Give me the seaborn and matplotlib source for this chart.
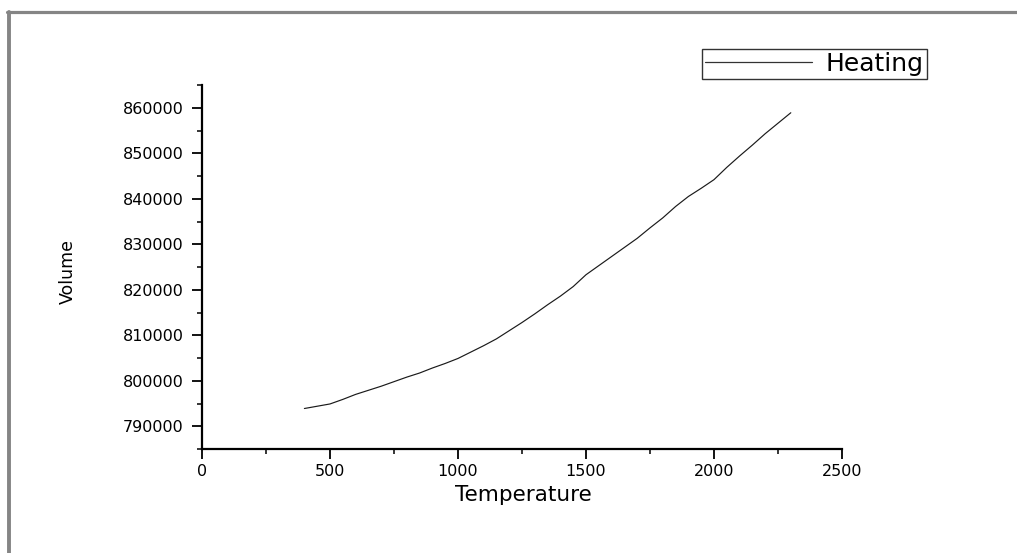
import matplotlib
matplotlib.use("Agg")
import matplotlib.pyplot as plt
import numpy as np
import pandas as pd
import seaborn as sns
from matplotlib.ticker import MultipleLocator
from matplotlib.lines import Line2D

# Heating run: volume against temperature
temperature = [400, 450, 500, 550, 600, 650, 700, 750, 800, 850, 900, 950,
               1000, 1050, 1100, 1150, 1200, 1250, 1300, 1350, 1400, 1450,
               1500, 1550, 1600, 1650, 1700, 1750, 1800, 1850, 1900, 1950,
               2000, 2050, 2100, 2150, 2200, 2250, 2300]
volume = [793900, 794400, 794900, 795900, 797000, 797900, 798800, 799800,
          800800, 801700, 802800, 803800, 804900, 806300, 807700, 809200,
          811000, 812800, 814700, 816700, 818600, 820700, 823300, 825300,
          827300, 829300, 831300, 833600, 835800, 838300, 840500, 842300,
          844200, 846900, 849400, 851800, 854300, 856600, 858900]
series_name = "Heating"

df = pd.DataFrame({"Temperature": temperature, "Volume": volume})

sns.set_theme(style="ticks")
plt.rcParams["font.family"] = ["DejaVu Sans"]

W, H = 1017, 553
fig = plt.figure(figsize=(W / 100, H / 100), dpi=100)
fig.patch.set_facecolor("white")

ax = fig.add_axes([202 / W, 1 - 449 / H, 640 / W, 364 / H])
sns.lineplot(data=df, x="Temperature", y="Volume", ax=ax,
             color="#1a1a1a", linewidth=0.85, label=series_name)

ax.set_xlim(0, 2500)
ax.set_ylim(785000, 865000)
ax.xaxis.set_major_locator(MultipleLocator(500))
ax.xaxis.set_minor_locator(MultipleLocator(250))
ax.yaxis.set_major_locator(MultipleLocator(10000))
ax.yaxis.set_minor_locator(MultipleLocator(5000))

for side in ("top", "right"):
    ax.spines[side].set_visible(False)
for side in ("left", "bottom"):
    ax.spines[side].set_linewidth(1.6)
    ax.spines[side].set_color("black")

ax.tick_params(which="major", length=7, width=1.3, color="black",
               labelsize=11.5, labelcolor="black", direction="out")
ax.tick_params(which="minor", length=3.5, width=1.1, color="black",
               direction="out")
ax.tick_params(axis="y", which="major", pad=6)
ax.tick_params(axis="x", which="major", pad=4)

ax.set_xlabel("Temperature", fontsize=15.5, color="black")
ax.xaxis.set_label_coords(0.5016, -0.10)
ax.set_ylabel("Volume", fontsize=12.5, color="black")
ax.yaxis.set_label_coords(-0.195, 0.487)

leg = ax.legend(loc="upper right", bbox_to_anchor=(927 / W, 1 - 49 / H),
                bbox_transform=fig.transFigure, fontsize=18,
                handlelength=4.3, handletextpad=0.55, borderpad=0.12,
                borderaxespad=0, frameon=True, fancybox=False,
                framealpha=1, edgecolor="#333333")
leg.get_frame().set_linewidth(1.0)
for text in leg.get_texts():
    text.set_color("black")
for line in leg.get_lines():
    line.set_linewidth(0.9)
    line.set_color("#333333")

# page frame along the top and left edges
fig.add_artist(Line2D([7 / W, 1], [1 - 11.5 / H, 1 - 11.5 / H],
                      transform=fig.transFigure, color="#858585", lw=2.3))
fig.add_artist(Line2D([9 / W, 9 / W], [0, 1 - 11.5 / H],
                      transform=fig.transFigure, color="#858585", lw=2.8))

fig.savefig("out.png", dpi=100, facecolor="white")
